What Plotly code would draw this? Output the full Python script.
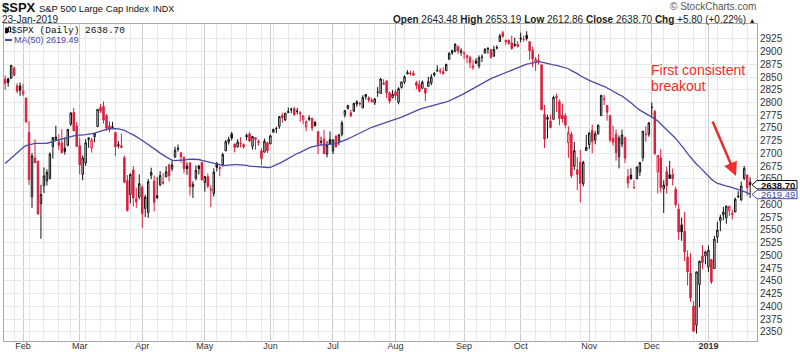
import pandas as pd
import plotly.graph_objects as go

# ---------------- data ----------------
holidays = ['2018-02-19', '2018-03-30', '2018-05-28', '2018-07-04', '2018-09-03',
            '2018-11-22', '2018-12-05', '2018-12-25', '2019-01-01', '2019-01-21']
dates = [d for d in pd.bdate_range('2018-01-24', '2019-01-23')
         if d.strftime('%Y-%m-%d') not in holidays]

opens = [
    2845.42, 2846.24, 2847.48, 2867.23, 2832.74, 2832.41,
    2816.45, 2808.92, 2741.06, 2614.78, 2690.95, 2685.01, 2601.78, 2636.75, 2646.27, 2651.21, 2713.46, 2727.14, 2722.99, 2720.53, 2710.42, 2715.80, 2757.37, 2780.45, 2753.78,
    2715.22, 2658.89, 2681.06, 2730.18, 2710.18, 2732.75, 2752.91, 2790.54, 2792.31, 2774.06, 2754.27, 2750.57, 2741.38, 2715.05, 2714.99, 2691.36, 2646.71, 2619.35, 2667.57, 2611.30, 2614.41,
    2633.45, 2592.17, 2584.04, 2657.36, 2645.82, 2617.18, 2638.41, 2643.89, 2653.83, 2676.90, 2670.10, 2692.74, 2710.11, 2701.16, 2692.56, 2675.40, 2680.80, 2634.92, 2651.65, 2675.47, 2682.51,
    2642.96, 2654.24, 2628.08, 2621.45, 2680.34, 2670.26, 2678.12, 2705.02, 2722.70, 2738.47, 2718.59, 2712.62, 2719.71, 2717.35, 2735.39, 2738.34, 2713.98, 2730.94, 2723.60, 2705.11, 2702.43, 2720.98,
    2718.70, 2741.67, 2748.46, 2753.25, 2774.84, 2765.84, 2780.18, 2785.60, 2787.94, 2783.21, 2777.78, 2765.79, 2752.01, 2769.73, 2769.28, 2760.79, 2742.94, 2722.12, 2728.45, 2698.69, 2727.13,
    2704.95, 2733.27, 2724.19, 2737.68, 2775.62, 2788.56, 2779.82, 2783.14, 2796.93, 2797.36, 2789.34, 2811.35, 2809.37, 2804.55, 2799.17, 2820.68, 2817.73, 2835.49, 2842.35, 2819.00, 2809.73,
    2821.17, 2800.48, 2829.62, 2840.29, 2855.92, 2856.79, 2857.19, 2838.90, 2835.46, 2827.88, 2827.95, 2831.44, 2838.32, 2853.93, 2861.51, 2860.99, 2860.29, 2862.35, 2884.69, 2901.45, 2900.62, 2908.94, 2898.37,
    2896.96, 2891.59, 2888.64, 2868.26, 2881.39, 2871.57, 2888.29, 2896.85, 2906.38, 2903.83, 2890.74, 2906.60, 2919.73, 2936.76, 2921.83, 2921.75, 2916.98, 2911.65, 2910.03,
    2926.29, 2923.80, 2931.69, 2919.35, 2902.54, 2877.53, 2882.51, 2873.90, 2776.87, 2770.54, 2763.83, 2767.05, 2811.67, 2802.00, 2775.66, 2773.94, 2721.03, 2737.87, 2674.88, 2667.86, 2682.65, 2640.68, 2705.60,
    2717.58, 2745.45, 2726.37, 2738.40, 2774.13, 2806.38, 2794.10, 2773.93, 2730.05, 2737.90, 2693.52, 2718.54, 2730.74, 2654.60, 2657.74, 2633.36, 2649.97, 2663.75, 2691.45, 2736.97, 2737.76,
    2790.50, 2782.43, 2663.51, 2691.26, 2630.86, 2664.44, 2658.23, 2658.70, 2629.68, 2590.75, 2559.90, 2547.05, 2496.77, 2465.38, 2400.56, 2363.12, 2442.50, 2498.77, 2498.94,
    2476.96, 2491.92, 2474.33, 2535.61, 2568.11, 2580.00, 2573.51, 2588.11, 2580.31, 2585.10, 2614.75, 2609.28, 2651.27, 2657.88, 2643.48]

highs = [
    2852.97, 2848.56, 2872.87, 2870.62, 2837.75, 2839.26,
    2835.96, 2808.92, 2763.39, 2701.04, 2727.67, 2685.27, 2638.67, 2672.61, 2668.84, 2702.10, 2731.51, 2754.42, 2737.60, 2747.75, 2731.26, 2747.76, 2780.64, 2789.15, 2761.52,
    2730.89, 2696.25, 2728.09, 2732.08, 2730.60, 2740.45, 2786.57, 2796.98, 2801.90, 2777.11, 2763.03, 2761.85, 2741.38, 2724.22, 2739.14, 2695.68, 2657.67, 2661.36, 2674.78, 2632.65, 2659.07,
    2638.30, 2619.14, 2649.86, 2672.08, 2656.88, 2653.55, 2665.45, 2661.43, 2674.72, 2680.26, 2686.49, 2713.34, 2717.49, 2702.84, 2693.94, 2682.86, 2683.55, 2645.30, 2676.48, 2677.35, 2682.87,
    2655.27, 2660.87, 2637.14, 2670.93, 2683.35, 2676.34, 2701.27, 2726.11, 2732.86, 2742.10, 2718.59, 2727.76, 2731.96, 2719.50, 2739.19, 2742.24, 2733.33, 2731.97, 2727.36, 2710.67, 2729.34, 2722.50,
    2736.93, 2749.16, 2752.61, 2772.39, 2779.90, 2779.39, 2790.21, 2789.80, 2791.47, 2789.06, 2782.81, 2774.99, 2765.05, 2774.86, 2769.28, 2764.17, 2742.94, 2732.91, 2746.09, 2724.34, 2743.26,
    2727.26, 2736.58, 2737.83, 2764.41, 2784.65, 2795.58, 2785.91, 2799.22, 2804.53, 2801.19, 2814.19, 2816.76, 2812.05, 2809.70, 2808.61, 2829.99, 2848.03, 2845.57, 2843.17, 2821.74, 2824.46,
    2825.83, 2829.91, 2840.38, 2853.29, 2863.43, 2862.44, 2862.48, 2842.20, 2843.40, 2843.11, 2827.95, 2850.49, 2855.63, 2859.76, 2873.23, 2867.54, 2868.78, 2876.16, 2898.25, 2903.77, 2916.50, 2912.46, 2906.32,
    2900.18, 2894.21, 2892.05, 2883.81, 2886.93, 2892.52, 2894.65, 2906.76, 2908.30, 2904.65, 2911.17, 2912.36, 2934.80, 2940.91, 2923.79, 2923.95, 2931.15, 2927.22, 2920.53,
    2937.06, 2931.42, 2939.86, 2919.78, 2909.64, 2889.45, 2894.83, 2874.02, 2795.14, 2775.77, 2775.99, 2813.46, 2816.94, 2806.04, 2797.77, 2778.94, 2753.59, 2742.59, 2722.70, 2692.38, 2706.85, 2685.43, 2736.69,
    2741.67, 2756.55, 2744.27, 2756.82, 2815.15, 2814.75, 2794.10, 2775.99, 2754.60, 2746.80, 2735.38, 2746.75, 2733.16, 2669.44, 2670.73, 2647.55, 2674.35, 2682.53, 2744.00, 2753.75, 2760.88,
    2800.18, 2785.93, 2696.15, 2708.54, 2647.51, 2674.35, 2685.44, 2670.19, 2635.07, 2601.13, 2573.99, 2585.29, 2509.63, 2504.41, 2410.34, 2467.76, 2489.10, 2520.27, 2509.24,
    2519.49, 2493.14, 2538.07, 2566.16, 2579.82, 2595.32, 2597.82, 2596.27, 2589.32, 2613.08, 2625.76, 2645.06, 2675.47, 2657.88, 2653.19]

lows = [
    2824.81, 2830.94, 2846.18, 2851.48, 2818.27, 2813.04,
    2812.70, 2759.97, 2638.17, 2593.07, 2681.33, 2580.56, 2532.69, 2622.45, 2637.08, 2648.87, 2689.82, 2725.11, 2706.76, 2701.29, 2697.77, 2713.74, 2753.78, 2744.22, 2713.54,
    2659.65, 2647.32, 2675.75, 2711.26, 2701.74, 2721.92, 2751.54, 2779.26, 2758.68, 2744.38, 2741.47, 2749.97, 2694.59, 2710.05, 2709.79, 2641.59, 2585.89, 2601.81, 2596.12, 2593.06, 2609.72,
    2553.80, 2575.49, 2573.61, 2649.58, 2586.27, 2610.79, 2635.78, 2639.25, 2653.83, 2645.05, 2665.16, 2692.05, 2703.63, 2681.90, 2660.61, 2657.99, 2617.32, 2612.67, 2647.16, 2659.01, 2648.04,
    2625.41, 2631.70, 2594.62, 2615.32, 2664.70, 2655.20, 2674.14, 2704.54, 2717.45, 2725.47, 2701.91, 2712.17, 2711.36, 2709.18, 2725.70, 2721.88, 2707.38, 2707.38, 2714.99, 2676.81, 2702.43, 2700.68,
    2718.70, 2740.54, 2739.51, 2748.46, 2760.16, 2763.59, 2780.17, 2778.78, 2774.65, 2776.52, 2761.73, 2757.12, 2743.19, 2763.91, 2744.39, 2752.68, 2698.67, 2715.60, 2699.38, 2691.99, 2718.03,
    2698.95, 2711.16, 2716.02, 2733.52, 2770.73, 2786.24, 2770.77, 2781.53, 2791.69, 2793.39, 2789.24, 2805.89, 2799.77, 2800.01, 2795.14, 2811.12, 2817.73, 2835.26, 2808.34, 2798.11, 2808.06,
    2805.85, 2796.34, 2827.37, 2835.98, 2855.92, 2853.09, 2851.98, 2825.81, 2819.88, 2826.58, 2802.49, 2831.44, 2833.73, 2850.62, 2861.32, 2856.05, 2854.03, 2862.35, 2884.69, 2893.50, 2898.40, 2895.22, 2891.73,
    2885.13, 2876.92, 2867.29, 2864.12, 2875.94, 2866.78, 2879.20, 2896.39, 2895.77, 2886.16, 2890.43, 2903.82, 2919.73, 2927.11, 2912.63, 2913.70, 2903.28, 2909.27, 2907.50,
    2917.91, 2919.37, 2921.36, 2883.92, 2869.29, 2862.08, 2874.27, 2784.86, 2710.51, 2729.44, 2749.03, 2766.91, 2781.81, 2755.18, 2760.27, 2749.22, 2691.43, 2651.89, 2667.84, 2628.16, 2603.54, 2635.34, 2705.60,
    2708.85, 2700.44, 2717.94, 2737.08, 2774.13, 2794.99, 2764.24, 2722.00, 2714.98, 2685.75, 2670.75, 2712.16, 2681.09, 2631.52, 2649.82, 2631.09, 2649.97, 2655.89, 2684.38, 2722.94, 2732.76,
    2773.38, 2697.18, 2621.53, 2623.14, 2583.23, 2621.30, 2650.26, 2637.27, 2593.84, 2530.54, 2528.71, 2488.96, 2441.18, 2408.55, 2351.10, 2346.58, 2397.94, 2472.89, 2482.82,
    2467.47, 2443.96, 2474.33, 2524.56, 2547.56, 2568.89, 2562.02, 2577.40, 2570.41, 2585.10, 2612.68, 2606.36, 2647.58, 2617.27, 2612.86]

closes = [
    2837.54, 2839.25, 2872.87, 2853.53, 2822.43, 2823.81,
    2821.98, 2762.13, 2648.94, 2695.14, 2681.66, 2581.00, 2619.55, 2656.00, 2662.94, 2698.63, 2731.20, 2732.22, 2716.26, 2701.33, 2703.96, 2747.30, 2779.60, 2744.28, 2713.83,
    2677.67, 2691.25, 2720.94, 2728.12, 2726.80, 2738.97, 2786.57, 2783.02, 2765.31, 2749.48, 2747.33, 2752.01, 2712.92, 2716.94, 2711.93, 2643.69, 2588.26, 2658.55, 2612.62, 2605.00, 2640.87,
    2581.88, 2614.45, 2644.69, 2662.84, 2604.47, 2613.16, 2656.87, 2642.19, 2663.99, 2656.30, 2677.84, 2706.39, 2708.64, 2693.13, 2670.14, 2670.29, 2634.56, 2639.40, 2666.94, 2669.91, 2648.05,
    2654.80, 2635.67, 2629.73, 2663.42, 2672.63, 2671.92, 2697.79, 2723.07, 2727.72, 2730.13, 2711.45, 2722.46, 2720.13, 2712.97, 2733.01, 2724.44, 2733.29, 2727.76, 2721.33, 2689.86, 2724.01, 2705.27,
    2734.62, 2746.87, 2748.80, 2772.35, 2770.37, 2779.03, 2782.00, 2786.85, 2775.63, 2782.49, 2779.66, 2773.75, 2762.59, 2767.32, 2749.76, 2754.88, 2717.07, 2723.06, 2699.63, 2716.31, 2718.37,
    2726.71, 2713.22, 2736.61, 2759.82, 2784.17, 2793.84, 2774.02, 2798.29, 2801.31, 2798.43, 2809.55, 2815.62, 2804.49, 2801.83, 2806.98, 2820.40, 2846.07, 2837.44, 2818.82, 2802.60, 2816.29,
    2813.36, 2827.22, 2840.35, 2850.40, 2858.45, 2857.70, 2853.58, 2833.28, 2821.93, 2839.96, 2818.37, 2840.69, 2850.13, 2857.05, 2862.96, 2861.82, 2856.98, 2874.69, 2896.74, 2897.52, 2914.04, 2901.13, 2901.52,
    2896.72, 2888.60, 2878.05, 2871.68, 2877.13, 2887.89, 2888.92, 2904.18, 2904.98, 2888.80, 2904.31, 2907.95, 2930.75, 2929.67, 2919.37, 2915.56, 2905.97, 2914.00, 2913.98,
    2924.59, 2923.43, 2925.51, 2901.61, 2885.57, 2884.43, 2880.34, 2785.68, 2728.37, 2767.13, 2750.79, 2809.92, 2809.21, 2768.78, 2767.78, 2755.88, 2740.69, 2656.10, 2705.57, 2658.69, 2641.25, 2682.63, 2711.74,
    2740.37, 2723.06, 2738.31, 2755.45, 2813.89, 2806.83, 2781.01, 2726.22, 2722.18, 2701.58, 2730.20, 2736.27, 2690.73, 2641.89, 2649.93, 2632.56, 2673.45, 2682.17, 2743.79, 2737.80, 2760.17,
    2790.37, 2700.06, 2695.95, 2633.08, 2637.72, 2636.78, 2651.07, 2650.54, 2599.95, 2545.94, 2546.16, 2506.96, 2467.42, 2416.62, 2351.10, 2467.70, 2488.83, 2485.74, 2506.85,
    2510.03, 2447.89, 2531.94, 2549.69, 2574.41, 2584.96, 2596.64, 2596.26, 2582.61, 2610.30, 2616.10, 2635.96, 2670.71, 2632.90, 2638.70]

# closes before the chart window (Nov 10 2017 - Jan 23 2018), used for the 50-day MA
prior_closes = [
    2582.30, 2584.84, 2578.87, 2564.62, 2585.64, 2578.85, 2582.14, 2599.03, 2597.08, 2602.42,
    2601.42, 2627.04, 2626.07, 2647.58, 2642.22, 2639.44, 2629.57, 2629.27, 2636.98, 2651.50,
    2659.99, 2664.11, 2662.85, 2652.01, 2675.81, 2690.16, 2681.47, 2679.25, 2684.57, 2683.34,
    2680.50, 2682.62, 2687.54, 2673.61, 2695.81, 2713.06, 2723.99, 2743.15, 2747.71, 2751.29,
    2748.23, 2767.56, 2786.24, 2776.42, 2802.56, 2798.03, 2810.30, 2832.97, 2839.13]

month_labels = ['Feb', 'Mar', 'Apr', 'May', 'Jun', 'Jul', 'Aug', 'Sep', 'Oct', 'Nov', 'Dec', '<b>2019</b>']
y_ticks = [2350, 2375, 2400, 2425, 2450, 2475, 2500, 2525, 2550, 2575, 2600, 2625, 2650,
           2675, 2700, 2725, 2750, 2775, 2800, 2825, 2850, 2875, 2900, 2925]
hidden_y_labels = [2625]          # covered by the value boxes in the reference
last_close = 2638.70
last_ma = 2619.49

# ---------------- derived ----------------
n = min(len(dates), len(opens), len(highs), len(lows), len(closes))
dates = dates[:n]
xs = list(range(n))
ma = pd.Series(prior_closes + closes[:n]).rolling(50).mean().iloc[-n:].tolist()
prev = [prior_closes[-1]] + closes[:n - 1]
up_idx = [i for i in xs if closes[i] >= prev[i]]
dn_idx = [i for i in xs if closes[i] < prev[i]]

month_idx = [i for i in range(1, n) if dates[i].month != dates[i - 1].month]
week_idx = [i for i in range(1, n) if dates[i].isocalendar()[1] != dates[i - 1].isocalendar()[1]]

RED = '#dc1e3c'
BLUE = '#4a4aa6'

fig = go.Figure()


def sub(arr, idx):
    return [arr[i] for i in idx]


fig.add_trace(go.Candlestick(
    x=up_idx, open=sub(opens, up_idx), high=sub(highs, up_idx),
    low=sub(lows, up_idx), close=sub(closes, up_idx),
    increasing=dict(line=dict(color='#111111', width=1), fillcolor='#ffffff'),
    decreasing=dict(line=dict(color='#111111', width=1), fillcolor='#111111'),
    whiskerwidth=0, showlegend=False, hoverinfo='skip'))
fig.add_trace(go.Candlestick(
    x=dn_idx, open=sub(opens, dn_idx), high=sub(highs, dn_idx),
    low=sub(lows, dn_idx), close=sub(closes, dn_idx),
    increasing=dict(line=dict(color=RED, width=1), fillcolor='#ffffff'),
    decreasing=dict(line=dict(color=RED, width=1), fillcolor=RED),
    whiskerwidth=0, showlegend=False, hoverinfo='skip'))
fig.add_trace(go.Scatter(x=xs, y=ma, mode='lines', line=dict(color=BLUE, width=1.3),
                         showlegend=False, hoverinfo='skip'))

# ---------------- layout ----------------
L, R, T, B = 4, 757, 24, 341
W, H = 800, 352


def px(xp):
    return (xp - L) / (R - L)


def py(yp):
    return (B - yp) / (B - T)


fig.update_layout(
    width=W, height=H,
    margin=dict(l=L, r=W - R, t=T, b=H - B, autoexpand=False),
    paper_bgcolor='white', plot_bgcolor='white', showlegend=False,
    font=dict(family='Liberation Sans, Arial, sans-serif', size=10, color='#333333'),
)
fig.update_xaxes(
    range=[-0.4, n + 1.3], tickmode='array', tickvals=month_idx, ticktext=month_labels[:len(month_idx)],
    showgrid=True, gridcolor='#cccccc', gridwidth=1,
    minor=dict(tickmode='array', tickvals=week_idx, showgrid=True, gridcolor='#e8e8e8', gridwidth=1),
    showline=True, linecolor='#a8a8a8', linewidth=1, mirror=True, ticks='', zeroline=False,
    rangeslider=dict(visible=False), tickfont=dict(size=9, color='#333333'), fixedrange=True)
try:
    fig.update_xaxes(ticklabelstandoff=-4)
except Exception:
    pass
fig.update_yaxes(
    side='right', range=[2332, 2954], tickmode='array',
    tickvals=[v for v in y_ticks if v not in hidden_y_labels],
    showgrid=True, gridcolor='#e8e8e8', gridwidth=1,
    minor=dict(tickmode='array', tickvals=y_ticks, showgrid=True, gridcolor='#e8e8e8', gridwidth=1),
    showline=True, linecolor='#a8a8a8', linewidth=1, mirror=True, ticks='', zeroline=False,
    tickfont=dict(size=10, color='#333333'), fixedrange=True)

ann = []
shapes = []
# header
ann.append(dict(xref='paper', yref='paper', x=px(0), y=py(7.5), xanchor='left', yanchor='middle',
                showarrow=False,
                text='<b><span style="font-size:13px">$SPX</span></b> '
                     '<span style="font-size:9.5px">S&amp;P 500 Large Cap Index</span> '
                     '<span style="font-size:9px">INDX</span>',
                font=dict(size=13, color='#111111')))
ann.append(dict(xref='paper', yref='paper', x=px(0), y=py(19), xanchor='left', yanchor='middle',
                showarrow=False, text='23-Jan-2019', font=dict(size=10, color='#222222')))
ann.append(dict(xref='paper', yref='paper', x=px(758), y=py(19), xanchor='right', yanchor='middle',
                showarrow=False,
                text='<b>Open</b> 2643.48 <b>High</b> 2653.19 <b>Low</b> 2612.86 '
                     '<b>Close</b> 2638.70 <b>Chg</b> +5.80 (+0.22%) <span style="font-size:7px">▲</span>',
                font=dict(size=10, color='#222222')))
ann.append(dict(xref='paper', yref='paper', x=px(758), y=py(7), xanchor='right', yanchor='middle',
                showarrow=False, text='© StockCharts.com', font=dict(size=10, color='#555555')))
# in-plot legend
ann.append(dict(xref='paper', yref='paper', x=px(9), y=py(30), xanchor='left', yanchor='middle',
                showarrow=False, text='$SPX (Daily) 2638.70',
                font=dict(family='Liberation Mono, monospace', size=9.5, color='#111111')))
ann.append(dict(xref='paper', yref='paper', x=px(12), y=py(40), xanchor='left', yanchor='middle',
                showarrow=False, text='MA(50) 2619.49', font=dict(size=9, color=BLUE)))
shapes.append(dict(type='line', xref='paper', yref='paper', x0=px(5), x1=px(12), y0=py(40), y1=py(40),
                   line=dict(color=BLUE, width=2)))
shapes.append(dict(type='rect', xref='paper', yref='paper', x0=px(5.5), x1=px(7.5), y0=py(33), y1=py(28),
                   line=dict(color='#111111', width=1), fillcolor='#111111'))
shapes.append(dict(type='rect', xref='paper', yref='paper', x0=px(8.5), x1=px(10.5), y0=py(32), y1=py(27),
                   line=dict(color='#111111', width=1), fillcolor='#ffffff'))

# right-side value labels
hh = 4.2 * (2954 - 2332) / (B - T)
for val, col, bold in [(last_close, '#111111', True), (last_ma, BLUE, False)]:
    path = (f'M {px(752)},{val} L {px(757)},{val + hh} L {px(797)},{val + hh} '
            f'L {px(797)},{val - hh} L {px(757)},{val - hh} Z')
    shapes.append(dict(type='path', xref='paper', yref='y', path=path,
                       line=dict(color=col, width=1), fillcolor='white', layer='above'))
    txt = f'{val:.2f}'
    ann.append(dict(xref='paper', yref='y', x=px(777.5), y=val, xanchor='center', yanchor='middle',
                    showarrow=False, text=f'<b>{txt}</b>' if bold else txt, borderpad=0,
                    height=8, valign='middle', font=dict(size=9.5, color=col)))

# callout
ann.append(dict(xref='paper', yref='paper', x=px(649), y=py(70), xanchor='left', yanchor='middle',
                showarrow=False, text='First consistent', font=dict(size=14, color='#ee2d2a')))
ann.append(dict(xref='paper', yref='paper', x=px(649), y=py(86), xanchor='left', yanchor='middle',
                showarrow=False, text='breakout', font=dict(size=14, color='#ee2d2a')))
ann.append(dict(xref='paper', yref='paper', x=px(736), y=py(176), ax=-24, ay=-56,
                axref='pixel', ayref='pixel', showarrow=True, text='',
                arrowhead=2, arrowsize=1.1, arrowwidth=2.5, arrowcolor='#ee2d2a'))

fig.update_layout(annotations=ann, shapes=shapes)
fig.write_html('out.html')
